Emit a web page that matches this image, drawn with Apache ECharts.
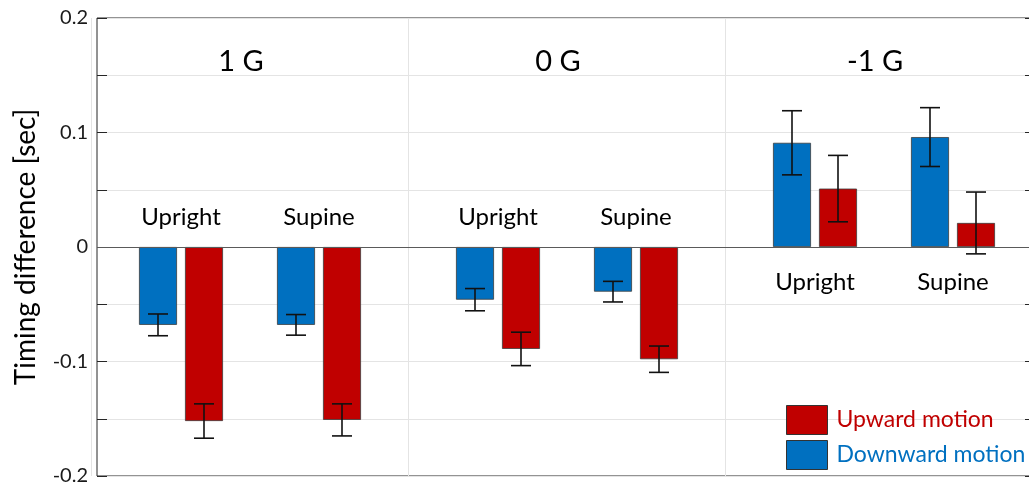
<!DOCTYPE html>
<html>
<head>
<meta charset="utf-8">
<script src="https://cdn.jsdelivr.net/npm/echarts@6/dist/echarts.min.js"></script>
<style>
  html, body { margin: 0; padding: 0; background: #ffffff; overflow: hidden; width: 1029px; height: 487px; }
  #chart { width: 1050px; height: 487px; }
</style>
</head>
<body>
<div id="chart"></div>
<script>
// ---- data ----
const groups = ['1 G', '0 G', '-1 G'];
const postures = ['Upright', 'Supine'];
const yTicks = [-0.2, -0.1, 0, 0.1, 0.2];

const downUpright = [-0.068, -0.046, 0.091];
const upUpright   = [-0.152, -0.089, 0.051];
const downSupine  = [-0.068, -0.039, 0.096];
const upSupine    = [-0.151, -0.098, 0.021];

const downUprightErr = [0.0095, 0.0097, 0.028];
const upUprightErr   = [0.0150, 0.0146, 0.029];
const downSupineErr  = [0.0090, 0.0090, 0.0257];
const upSupineErr    = [0.0140, 0.0115, 0.027];

// ---- style ----
const BLUE = '#0070C0';
const RED = '#C00000';
const FONT = 'Lato';
const BAR_W = 38;
const GAP = 8;
const SLOT = BAR_W + GAP;

const chart = echarts.init(document.getElementById('chart'), null, { renderer: 'canvas' });

// bar slots: 0 = downward upright, 1 = upward upright, 2 = spacer, 3 = downward supine, 4 = upward supine
const barSets = [
  { name: 'Downward motion', vals: downUpright, errs: downUprightErr, color: BLUE, slot: 0 },
  { name: 'Upward motion',   vals: upUpright,   errs: upUprightErr,   color: RED,  slot: 1 },
  { name: 'Downward motion', vals: downSupine,  errs: downSupineErr,  color: BLUE, slot: 3 },
  { name: 'Upward motion',   vals: upSupine,    errs: upSupineErr,    color: RED,  slot: 4 }
];

const barSeries = [];
barSets.forEach(function (b, i) {
  if (i === 2) {
    barSeries.push({
      name: 'spacer', type: 'bar', xAxisIndex: 1, yAxisIndex: 2,
      barWidth: BAR_W, barGap: (GAP / BAR_W * 100) + '%',
      data: groups.map(function () { return '-'; }), silent: true
    });
  }
  const s = {
    name: b.name, type: 'bar', xAxisIndex: 1, yAxisIndex: 2,
    barWidth: BAR_W, barGap: (GAP / BAR_W * 100) + '%',
    data: b.vals.slice(),
    itemStyle: { color: b.color, borderColor: '#3c3c3c', borderWidth: 0.8 },
    z: 3
  };
  barSeries.push(s);
});

// error bar data
const errData = [];
barSets.forEach(function (b) {
  b.vals.forEach(function (v, gi) { errData.push([gi, b.slot, v, b.errs[gi]]); });
});

// posture label data: [groupIndex, postureIndex, sign]
const labelData = [];
groups.forEach(function (g, gi) {
  labelData.push([gi, 0, downUpright[gi] + upUpright[gi] < 0 ? -1 : 1]);
  labelData.push([gi, 1, downSupine[gi] + upSupine[gi] < 0 ? -1 : 1]);
});

const yCommon = { type: 'value', min: yTicks[0], max: yTicks[yTicks.length - 1], interval: 0.05 };

const option = {
  animation: false,
  backgroundColor: '#ffffff',
  textStyle: { fontFamily: FONT },
  grid: [
    { // frame + y axes
      left: 97, right: 15, top: 18, bottom: 11,
      show: true, borderColor: '#262626', borderWidth: 1, backgroundColor: 'transparent'
    },
    { // bar groups
      left: 91.5, right: 7.5, top: 18, bottom: 11, show: false
    }
  ],
  legend: {
    orient: 'vertical', left: 781, top: 400,
    itemWidth: 41, itemHeight: 29, itemGap: 5,
    icon: 'rect',
    itemStyle: { borderColor: '#333333', borderWidth: 1 },
    textStyle: { fontFamily: FONT, fontSize: 23, padding: [0, 0, 0, 4] },
    data: [
      { name: 'Upward motion', textStyle: { color: RED } },
      { name: 'Downward motion', textStyle: { color: BLUE } }
    ],
    selectedMode: false
  },
  xAxis: [
    {
      gridIndex: 0, type: 'value', min: 0, max: 1, show: false
    },
    {
      gridIndex: 1, type: 'category', data: groups, position: 'top',
      axisLine: { show: false }, axisTick: { show: false },
      axisLabel: { inside: true, margin: 29, fontSize: 29, color: '#000000', fontFamily: FONT, padding: [0, 18, 0, 0] },
      splitLine: { show: true, lineStyle: { color: '#e4e4e4', width: 1 } }
    }
  ],
  yAxis: [
    Object.assign({}, yCommon, {
      gridIndex: 0,
      name: 'Timing difference [sec]', nameLocation: 'middle', nameGap: 57, nameRotate: 90,
      nameTextStyle: { fontSize: 28, color: '#000000', fontFamily: FONT },
      axisLine: { show: false },
      axisTick: { show: true, inside: true, length: 10, lineStyle: { color: '#262626' } },
      axisLabel: {
        fontSize: 20, color: '#1a1a1a', margin: 9, fontFamily: FONT,
        formatter: function (v) {
          const r = Math.round(v * 100) / 100;
          for (let k = 0; k < yTicks.length; k++) {
            if (Math.abs(yTicks[k] - r) < 1e-9) return String(yTicks[k]);
          }
          return '';
        }
      },
      splitLine: { show: true, lineStyle: { color: '#e4e4e4', width: 1 } }
    }),
    Object.assign({}, yCommon, {
      gridIndex: 0, position: 'right',
      axisLine: { show: false },
      axisTick: { show: true, inside: true, length: 10, lineStyle: { color: '#262626' } },
      axisLabel: { show: false }, splitLine: { show: false }
    }),
    Object.assign({}, yCommon, {
      gridIndex: 1, show: false, splitLine: { show: false }
    })
  ],
  series: barSeries.concat([
    {
      name: 'zero', type: 'line', xAxisIndex: 0, yAxisIndex: 0, silent: true,
      data: [], z: 2,
      markLine: {
        silent: true, symbol: ['none', 'none'], label: { show: false },
        lineStyle: { color: '#5a5a5a', width: 1, type: 'solid' },
        data: [{ yAxis: 0 }]
      }
    },
    {
      name: 'errors', type: 'custom', xAxisIndex: 1, yAxisIndex: 2, z: 5, silent: true,
      data: errData,
      encode: { x: 0, y: 2 },
      renderItem: function (params, api) {
        const gi = api.value(0), slot = api.value(1), v = api.value(2), e = api.value(3);
        const c = api.coord([gi, v]);
        const x = c[0] + (slot - 2) * SLOT;
        const yHi = api.coord([gi, v + e])[1];
        const yLo = api.coord([gi, v - e])[1];
        const half = 10;
        const st = { stroke: '#111111', lineWidth: 1.6 };
        return {
          type: 'group', children: [
            { type: 'line', shape: { x1: x, y1: yHi, x2: x, y2: yLo }, style: st },
            { type: 'line', shape: { x1: x - half, y1: yHi, x2: x + half, y2: yHi }, style: st },
            { type: 'line', shape: { x1: x - half, y1: yLo, x2: x + half, y2: yLo }, style: st }
          ]
        };
      }
    },
    {
      name: 'postures', type: 'custom', xAxisIndex: 1, yAxisIndex: 2, z: 6, silent: true,
      data: labelData,
      encode: { x: 0 },
      renderItem: function (params, api) {
        const gi = api.value(0), pi = api.value(1), sign = api.value(2);
        const c = api.coord([gi, 0]);
        const x = c[0] + (pi === 0 ? -1.5 : 1.5) * SLOT;
        const y = sign < 0 ? c[1] - 30 : c[1] + 35;
        return {
          type: 'text', x: x, y: y,
          style: { text: postures[pi], fill: '#000000', font: '24px ' + FONT, align: 'center', verticalAlign: 'middle' }
        };
      }
    }
  ])
};

chart.setOption(option);
</script>
</body>
</html>
